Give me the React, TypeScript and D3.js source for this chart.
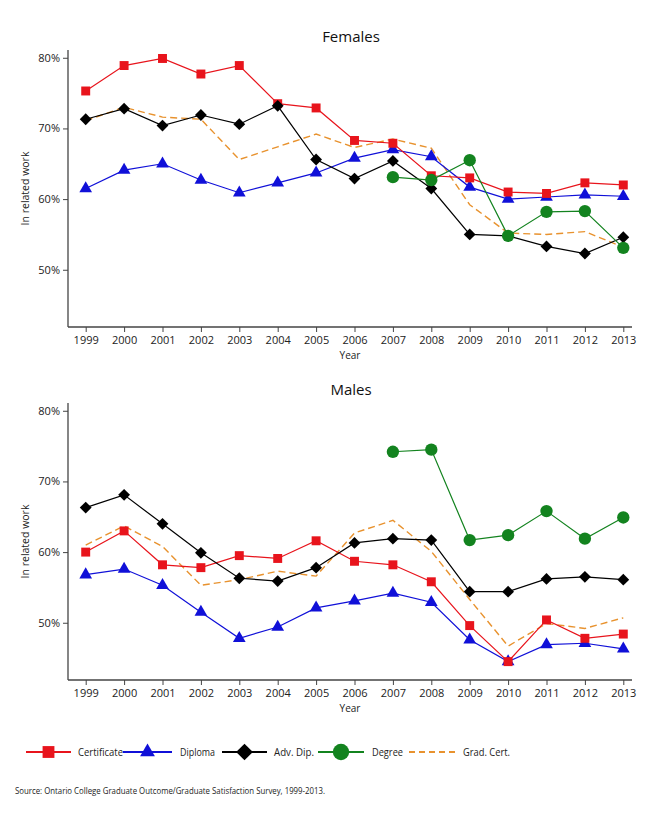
import React, { useEffect, useRef } from "react";
import * as d3 from "d3";

const years = [1999, 2000, 2001, 2002, 2003, 2004, 2005, 2006, 2007, 2008, 2009, 2010, 2011, 2012, 2013];
const yTicks = [50, 60, 70, 80];

// Females (% in related work)
const femCertificate = [75.3, 78.9, 79.9, 77.7, 78.9, 73.5, 72.9, 68.3, 67.9, 63.3, 63.0, 61.0, 60.8, 62.3, 62.0];
const femDiploma = [61.5, 64.1, 65.0, 62.7, 60.9, 62.3, 63.7, 65.8, 67.0, 66.0, 61.7, 60.0, 60.3, 60.6, 60.4];
const femAdvDip = [71.3, 72.8, 70.4, 71.9, 70.6, 73.2, 65.6, 62.9, 65.4, 61.5, 55.0, 54.8, 53.3, 52.3, 54.6];
const femDegree = [null, null, null, null, null, null, null, null, 63.1, 62.7, 65.5, 54.8, 58.2, 58.3, 53.1];
const femGradCert = [71.1, 73.0, 71.6, 71.3, 65.6, 67.4, 69.2, 67.3, 68.5, 67.2, 59.2, 55.2, 55.0, 55.4, 53.2];

// Males
const maleCertificate = [60.0, 63.0, 58.2, 57.8, 59.5, 59.1, 61.6, 58.7, 58.2, 55.8, 49.6, 44.5, 50.4, 47.8, 48.4];
const maleDiploma = [56.8, 57.6, 55.3, 51.5, 47.8, 49.4, 52.1, 53.1, 54.2, 52.9, 47.6, 44.5, 46.9, 47.1, 46.3];
const maleAdvDip = [66.3, 68.1, 64.0, 59.9, 56.3, 55.9, 57.8, 61.3, 61.9, 61.7, 54.4, 54.4, 56.2, 56.5, 56.1];
const maleDegree = [null, null, null, null, null, null, null, null, 74.2, 74.5, 61.7, 62.4, 65.8, 61.9, 64.9];
const maleGradCert = [61.0, 63.7, 60.8, 55.3, 56.1, 57.3, 56.6, 62.7, 64.5, 60.1, 53.3, 46.7, 49.9, 49.2, 50.7];

const seriesNames = ["Certificate", "Diploma", "Adv. Dip.", "Degree", "Grad. Cert."];
const seriesColors = ["#e8141c", "#1010d8", "#000000", "#13831f", "#e8922e"];
const seriesSymbols = ["square", "triangle", "diamond", "circle", "none"];

const panels = [
  { title: "Females", top: 50, series: [femCertificate, femDiploma, femAdvDip, femDegree, femGradCert] },
  { title: "Males", top: 403, series: [maleCertificate, maleDiploma, maleAdvDip, maleDegree, maleGradCert] },
];

const FONT = "'Open Sans', 'DejaVu Sans', sans-serif";

function symbolPath(kind: string, size: number) {
  const t =
    kind === "square" ? d3.symbolSquare :
    kind === "triangle" ? d3.symbolTriangle :
    kind === "diamond" ? d3.symbolSquare :
    d3.symbolCircle;
  return d3.symbol().type(t).size(size)() as string;
}

export default function App() {
  const svgRef = useRef<SVGSVGElement>(null);

  useEffect(() => {
    if (!svgRef.current) return;
    const svg = d3.select(svgRef.current);
    svg.selectAll("*").remove();

    const left = 68;
    const right = 632;
    const plotH = 277;

    const x = d3.scalePoint<number>().domain(years).range([85.7, 623.3]);

    panels.forEach((p) => {
      const y = d3.scaleLinear().domain([41.9, 81.1]).range([p.top + plotH, p.top]);
      const g = svg.append("g");

      g.append("text")
        .attr("x", 351)
        .attr("y", p.top - 8)
        .attr("text-anchor", "middle")
        .attr("font-family", FONT)
        .attr("font-size", 15)
        .attr("fill", "#111")
        .text(p.title);

      // y axis
      const ya = g.append("g").attr("transform", `translate(${left},0)`)
        .call(d3.axisLeft(y).tickValues(yTicks).tickSize(5).tickPadding(3).tickFormat((d) => `${d}%`));
      ya.select(".domain").attr("stroke", "#444").attr("stroke-width", 1.3).attr("d", `M-0,${p.top + plotH}V${p.top}`);
      ya.selectAll("line").attr("stroke", "#444");
      ya.selectAll("text").attr("font-family", FONT).attr("font-size", 11).attr("fill", "#222");

      // x axis
      const xa = g.append("g").attr("transform", `translate(0,${p.top + plotH})`)
        .call(d3.axisBottom(x).tickSize(5).tickPadding(4));
      xa.select(".domain").attr("stroke", "#444").attr("stroke-width", 1.3).attr("d", `M${left},0H${right}`);
      xa.selectAll("line").attr("stroke", "#444");
      xa.selectAll("text").attr("font-family", FONT).attr("font-size", 11).attr("fill", "#222");

      g.append("text")
        .attr("x", 350)
        .attr("y", p.top + plotH + 32)
        .attr("text-anchor", "middle")
        .attr("font-family", FONT)
        .attr("font-size", 10)
        .attr("fill", "#222")
        .text("Year");

      g.append("text")
        .attr("transform", `translate(29,${y(61.5)}) rotate(-90)`)
        .attr("text-anchor", "middle")
        .attr("font-family", FONT)
        .attr("font-size", 10.5)
        .attr("fill", "#222")
        .text("In related work");

      // grad cert drawn first, markers on top
      const order = [4, 1, 0, 2, 3];
      order.forEach((si) => {
        const vals = p.series[si];
        const pts = years.map((yr, i) => ({ yr, v: vals[i] })).filter((d) => d.v != null) as { yr: number; v: number }[];
        const line = d3.line<{ yr: number; v: number }>().x((d) => x(d.yr)!).y((d) => y(d.v));
        g.append("path")
          .datum(pts)
          .attr("fill", "none")
          .attr("stroke", seriesColors[si])
          .attr("stroke-width", si === 4 ? 1.4 : 1.2)
          .attr("stroke-dasharray", si === 4 ? "7,4" : null)
          .attr("d", line);

        const sym = seriesSymbols[si];
        if (sym !== "none") {
          const size = sym === "square" ? 80 : sym === "triangle" ? 70 : sym === "diamond" ? 70 : 120;
          g.selectAll(null)
            .data(pts)
            .join("path")
            .attr("d", symbolPath(sym, size))
            .attr("transform", (d) => `translate(${x(d.yr)},${y(d.v)})${sym === "diamond" ? " rotate(45)" : ""}`)
            .attr("fill", seriesColors[si]);
        }
      });
    });

    // legend
    const legendY = 752;
    const legendItems = [
      { x0: 26, x1: 71, tx: 78, w: 45 },
      { x0: 123, x1: 172, tx: 180, w: 35 },
      { x0: 222, x1: 267, tx: 274, w: 40 },
      { x0: 318, x1: 364, tx: 372, w: 31 },
      { x0: 409, x1: 456, tx: 463, w: 47 },
    ];
    const lg = svg.append("g");
    legendItems.forEach((it, si) => {
      lg.append("line")
        .attr("x1", it.x0).attr("x2", it.x1)
        .attr("y1", legendY).attr("y2", legendY)
        .attr("stroke", seriesColors[si])
        .attr("stroke-width", 1.8)
        .attr("stroke-dasharray", si === 4 ? "6,4" : null);
      const sym = seriesSymbols[si];
      if (sym !== "none") {
        const size = sym === "square" ? 140 : sym === "triangle" ? 95 : sym === "diamond" ? 140 : 210;
        lg.append("path")
          .attr("d", symbolPath(sym, size))
          .attr("transform", `translate(${(it.x0 + it.x1) / 2},${legendY})${sym === "diamond" ? " rotate(45)" : ""}`)
          .attr("fill", seriesColors[si]);
      }
      lg.append("text")
        .attr("x", it.tx)
        .attr("y", legendY + 4)
        .attr("font-family", FONT)
        .attr("font-size", 10)
        .attr("fill", "#222")
        .attr("textLength", it.w)
        .attr("lengthAdjust", "spacingAndGlyphs")
        .text(seriesNames[si]);
    });

    svg.append("text")
      .attr("x", 15)
      .attr("y", 794)
      .attr("font-family", FONT)
      .attr("font-size", 9)
      .attr("fill", "#222")
      .attr("textLength", 310)
      .attr("lengthAdjust", "spacingAndGlyphs")
      .text("Source: Ontario College Graduate Outcome/Graduate Satisfaction Survey, 1999-2013.");
  }, []);

  return (
    <div style={{ position: "absolute", left: 0, top: 0 }}>
      <svg ref={svgRef} width={650} height={813} style={{ display: "block", background: "#fff" }} />
    </div>
  );
}
